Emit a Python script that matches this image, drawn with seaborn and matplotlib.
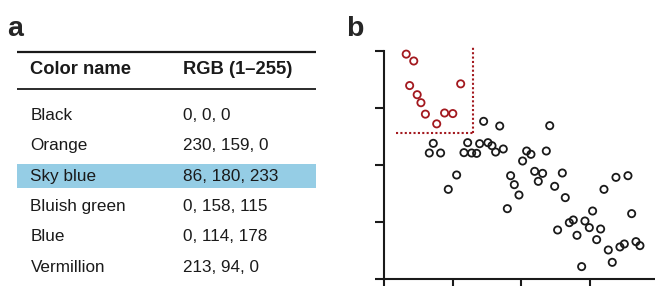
import seaborn as sns
import matplotlib.pyplot as plt
import numpy as np
import pandas as pd

# table data
color_names = ['Black', 'Orange', 'Sky blue', 'Bluish green', 'Blue', 'Vermillion']
rgb_values = ['0, 0, 0', '230, 159, 0', '86, 180, 233', '0, 158, 115', '0, 114, 178', '213, 94, 0']
header = ['Color name', 'RGB (1\u2013255)']
highlight_row = 'Sky blue'

# scatter data, red group (upper left)
red_x = [0.32, 0.43, 0.37, 0.48, 0.535, 0.60, 0.765, 0.88, 1.00, 1.115]
red_y = [3.94, 3.82, 3.39, 3.23, 3.09, 2.89, 2.72, 2.91, 2.90, 3.42]

# scatter data, black group
black_x = [1.45, 1.685, 2.415, 0.715, 0.657, 0.822, 1.217, 1.163, 1.275, 1.348,
           1.392, 1.513, 1.572, 1.625, 1.737, 2.078, 2.141, 2.365, 2.019, 1.056,
           0.934, 1.844, 1.898, 1.966, 1.796, 2.195, 2.248, 2.311, 2.487, 2.599,
           2.642, 2.530, 2.701, 2.759, 2.813, 2.881, 2.929, 2.993, 3.041, 3.100,
           3.158, 3.207, 3.270, 3.328, 3.382, 3.440, 3.504, 3.557, 3.611, 3.674,
           3.732]
black_y = [2.764, 2.682, 2.688, 2.379, 2.210, 2.210, 2.391, 2.216, 2.210, 2.204,
           2.373, 2.391, 2.338, 2.227, 2.280, 2.245, 2.187, 2.245, 2.070, 1.825,
           1.574, 1.813, 1.656, 1.475, 1.236, 1.889, 1.714, 1.854, 1.627, 1.860,
           1.429, 0.863, 0.991, 1.038, 0.770, 0.222, 1.020, 0.904, 1.195, 0.694,
           0.880, 1.574, 0.513, 0.297, 1.784, 0.566, 0.618, 1.813, 1.149, 0.659,
           0.589]

# threshold lines
thr_x = 1.29
thr_y = 2.56

RED = '#a3191f'
INK = '#1a1a1a'
BAND = '#95cde5'

sns.set_style('white')
plt.rcParams['font.family'] = ['Liberation Sans', 'DejaVu Sans']

fig = plt.figure(figsize=(6.55, 2.86), dpi=100)

# ---- panel a: table drawn in pixel-like coordinates
ax_t = fig.add_axes([0, 0, 330 / 655, 1])
ax_t.set_xlim(0, 330)
ax_t.set_ylim(286, 0)
ax_t.axis('off')

ax_t.text(7, 36, 'a', fontsize=20.5, fontweight='bold', va='baseline', ha='left')
ax_t.plot([17, 316], [51.7, 51.7], color=INK, lw=1.6, solid_capstyle='butt')
ax_t.plot([17, 316], [89, 89], color=INK, lw=1.3, solid_capstyle='butt')
ax_t.text(30.5, 70, header[0], fontsize=13.2, fontweight='bold', va='center', color=INK)
ax_t.text(183, 70, header[1], fontsize=13.2, fontweight='bold', va='center', color=INK)

row_y0 = 115.5
row_step = 30.3
for i, (nm, rgb) in enumerate(zip(color_names, rgb_values)):
    yy = row_y0 + i * row_step
    if nm == highlight_row:
        ax_t.fill_between([17, 316], yy - 12.2, yy + 12.2, color=BAND, lw=0)
    ax_t.text(30.5, yy, nm, fontsize=12.3, va='center', color=INK)
    ax_t.text(183, yy, rgb, fontsize=12.3, va='center', color=INK)

# ---- panel b: scatter
fig.text(346 / 655, 1 - 36 / 286, 'b', fontsize=20.5, fontweight='bold', va='baseline')

ax = fig.add_axes([384.3 / 655, (286 - 279.3) / 286, (655 - 384.3) / 655, (279.3 - 50.7) / 286])
df_b = pd.DataFrame({'x': black_x, 'y': black_y})
df_r = pd.DataFrame({'x': red_x, 'y': red_y})

ax.plot([0.166, thr_x], [thr_y, thr_y], color=RED, lw=1.5, ls=(0, (1, 1.1)), clip_on=False)
ax.plot([thr_x, thr_x], [thr_y, 4.07], color=RED, lw=1.5, ls=(0, (1, 1.1)), clip_on=False)

sns.scatterplot(data=df_b, x='x', y='y', ax=ax, s=27, marker='o',
                fc='none', ec=INK, linewidth=1.3, clip_on=False, zorder=3)
sns.scatterplot(data=df_r, x='x', y='y', ax=ax, s=27, marker='o',
                fc='none', ec=RED, linewidth=1.3, clip_on=False, zorder=3)

ax.set_xlim(0, (655 - 384.3) / 68.5)
ax.set_ylim(0, 4)
ax.set_xticks([0, 1, 2, 3])
ax.set_yticks([0, 1, 2, 3, 4])
ax.set_xticklabels([])
ax.set_yticklabels([])
ax.set_xlabel('')
ax.set_ylabel('')
ax.set_facecolor('none')
sns.despine(ax=ax, top=True, right=True)
for sp in ['left', 'bottom']:
    ax.spines[sp].set_linewidth(1.5)
    ax.spines[sp].set_color(INK)
ax.tick_params(axis='both', which='major', direction='out', length=6.5, width=1.5,
               color=INK, left=True, bottom=True)

fig.savefig('out.png', dpi=100)
